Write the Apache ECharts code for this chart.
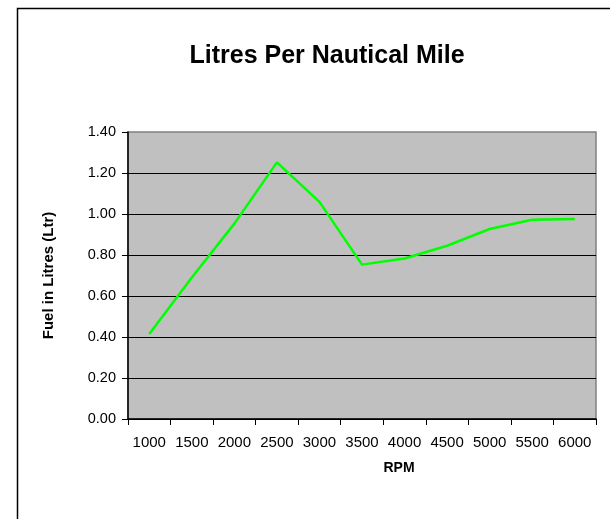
<!DOCTYPE html>
<html>
<head>
<meta charset="utf-8">
<script src="https://cdn.jsdelivr.net/npm/echarts@6/dist/echarts.min.js"></script>
<style>html,body{margin:0;padding:0;background:#fff}#c{width:610px;height:519px}</style>
</head>
<body>
<div id="c"></div>
<script>
const chartTitle = 'Litres Per Nautical Mile';
const xAxisTitle = 'RPM';
const yAxisTitle = 'Fuel in Litres (Ltr)';
const rpm = ['1000','1500','2000','2500','3000','3500','4000','4500','5000','5500','6000'];
const litresPerNm = [0.415, 0.69, 0.953, 1.252, 1.059, 0.753, 0.783, 0.845, 0.927, 0.972, 0.976];
const yMin = 0, yMax = 1.4, yStep = 0.2;

const FONT = '"Liberation Sans", Arial, sans-serif';
const chart = echarts.init(document.getElementById('c'), null, {renderer: 'canvas'});
chart.setOption({
  animation: false,
  backgroundColor: '#ffffff',
  graphic: [{
    type: 'rect', silent: true, z: -10,
    shape: {x: 17.5, y: 8.5, width: 800, height: 800},
    style: {fill: null, stroke: '#000', lineWidth: 1.5}
  }],
  title: {
    text: chartTitle,
    left: 322, top: 39, textAlign: 'center',
    textStyle: {fontFamily: FONT, fontSize: 25, fontWeight: 'bold', color: '#000'}
  },
  grid: {
    left: 128, right: 14, top: 132, bottom: 100,
    show: true, backgroundColor: '#c0c0c0', borderColor: '#808080', borderWidth: 1.5
  },
  xAxis: {
    type: 'category',
    data: rpm,
    boundaryGap: true,
    name: xAxisTitle,
    nameLocation: 'middle',
    nameGap: 42,
    nameTextStyle: {fontFamily: FONT, fontSize: 14, fontWeight: 'bold', color: '#000', padding: [0,0,0,74]},
    axisLine: {lineStyle: {color: '#000', width: 1.5}},
    axisTick: {show: true, length: 6, inside: false, lineStyle: {color: '#000'}},
    axisLabel: {fontFamily: FONT, fontSize: 15, color: '#000', margin: 16, interval: 0},
    splitLine: {show: false}
  },
  yAxis: {
    type: 'value',
    min: yMin, max: yMax, interval: yStep,
    name: yAxisTitle,
    nameLocation: 'middle',
    nameGap: 72,
    nameTextStyle: {fontFamily: FONT, fontSize: 15, fontWeight: 'bold', color: '#000'},
    axisLine: {show: true, lineStyle: {color: '#000', width: 1.5}},
    axisTick: {show: true, length: 6, inside: false, lineStyle: {color: '#000'}},
    axisLabel: {fontFamily: FONT, fontSize: 14.5, color: '#000', margin: 12, formatter: v => v.toFixed(2)},
    splitLine: {show: true, showMaxLine: false, lineStyle: {color: '#000', width: 1}}
  },
  series: [{
    type: 'line',
    data: litresPerNm,
    showSymbol: false,
    symbol: 'none',
    lineStyle: {color: '#00ff00', width: 2.5},
    itemStyle: {color: '#00ff00'}
  }]
});
</script>
</body>
</html>
